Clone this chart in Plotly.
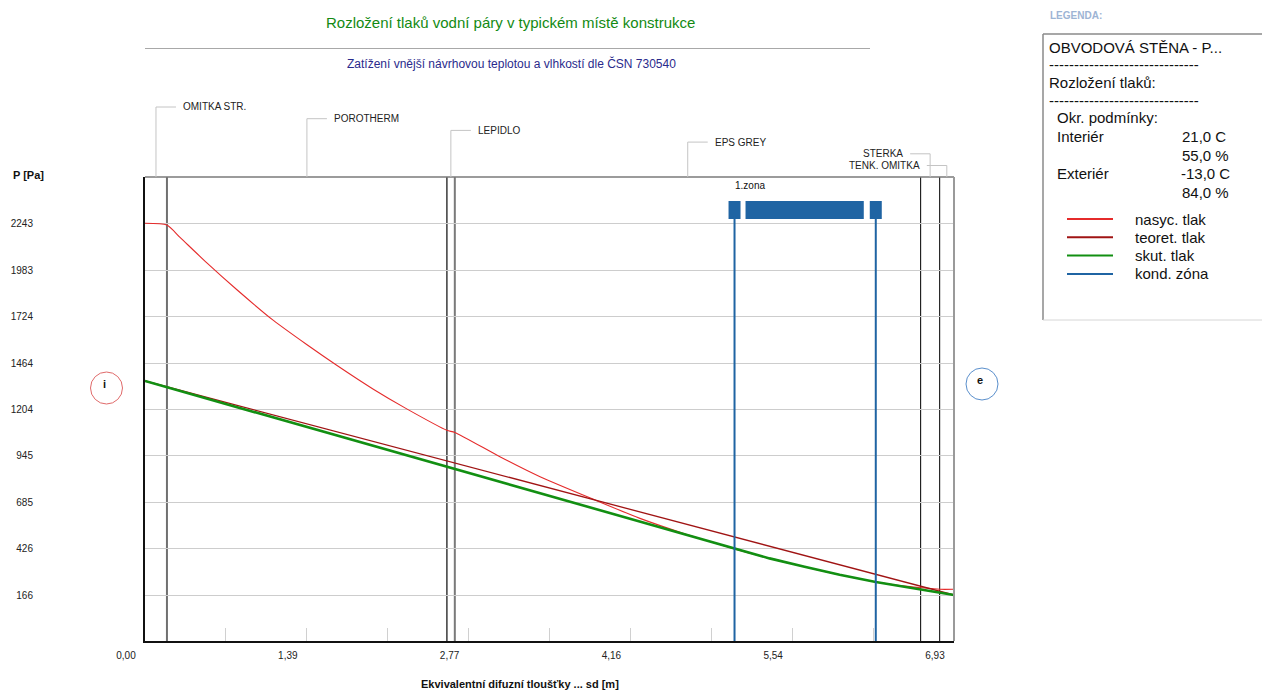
import plotly.graph_objects as go

# ------------------------- data -------------------------
layer_names = ["OMITKA STR.", "POROTHERM", "LEPIDLO", "EPS GREY", "STERKA", "TENK. OMITKA"]
layer_bounds = [0.0, 0.188, 2.586, 2.654, 6.644, 6.807, 6.93]   # sd [m]

# nasyc. tlak (saturated pressure)
sd_nasyc = [0.0, 0.188, 0.30, 0.53, 0.785, 1.10, 1.385, 1.642, 1.956, 2.242, 2.586, 2.654,
            3.04, 3.384, 3.869, 4.24, 4.64, 4.85, 5.05, 5.35, 5.65, 5.95, 6.26, 6.553, 6.644, 6.807, 6.93]
p_nasyc = [2247, 2237, 2168, 2025, 1876, 1703, 1568, 1452, 1318, 1208, 1088, 1076,
           940, 828, 694, 595, 505, 463, 423, 371, 324, 279, 239, 213, 207, 198, 198]

# teoret. tlak (theoretical pressure)
sd_teoret = [0.0, 6.93]
p_teoret = [1364, 166]

# skut. tlak (actual pressure)
sd_skut = [0.0, 5.05, 5.35, 5.65, 5.95, 6.26, 6.93]
p_skut = [1364, 423, 371, 324, 279, 239, 166]

# kond. zona (condensation zone)
zone_bounds = [5.05, 6.26]
zone_label = "1.zona"

x_tick_vals = [0.0, 1.386, 2.772, 4.158, 5.544, 6.93]
x_tick_text = ["0,00", "1,39", "2,77", "4,16", "5,54", "6,93"]
x_minor_step = 0.693
y_tick_vals = [166, 426, 685, 945, 1204, 1464, 1724, 1983, 2243]
y_tick_text = ["166", "426", "685", "945", "1204", "1464", "1724", "1983", "2243"]

series_names = ["nasyc. tlak", "teoret. tlak", "skut. tlak", "kond. zóna"]
construction = "OBVODOVÁ STĚNA - P..."
conditions = [("Interiér", "21,0 C", "55,0 %"), ("Exteriér", "-13,0 C", "84,0 %")]

title = "Rozložení tlaků vodní páry v typickém místě konstrukce"
subtitle = "Zatížení vnější návrhovou teplotou a vlhkostí dle ČSN 730540"
x_title = "Ekvivalentní difuzní tloušťky ... sd [m]"
y_title = "P [Pa]"

# ------------------------- styling -------------------------
C_NASYC = "#e52b2b"
C_TEORET = "#a01414"
C_SKUT = "#128f12"
C_ZONE = "#1f64a3"
series_colors = [C_NASYC, C_TEORET, C_SKUT, C_ZONE]

W, H = 1262, 691
PL, PT, PW, PH = 145, 177, 809, 464
X_RANGE = [0.0, 6.93]
Y_RANGE = [-91.5, 2506]

SMALL = "Liberation Sans, Arial, sans-serif"
MAIN = "Liberation Sans, Arial, sans-serif"


def px_x(px):
    return (px - PL) / PW


def px_y(py):
    return (PT + PH - py) / PH


fig = go.Figure()

fig.add_trace(go.Scatter(x=sd_nasyc, y=p_nasyc, mode="lines", name=series_names[0],
                         line=dict(color=C_NASYC, width=1.1, shape="spline", smoothing=0.6),
                         showlegend=False))
fig.add_trace(go.Scatter(x=sd_teoret, y=p_teoret, mode="lines", name=series_names[1],
                         line=dict(color=C_TEORET, width=1.3), showlegend=False))
fig.add_trace(go.Scatter(x=sd_skut, y=p_skut, mode="lines", name=series_names[2],
                         line=dict(color=C_SKUT, width=2.6), showlegend=False))

shapes = []
annotations = []

# plot frame (top / right)
shapes.append(dict(type="line", xref="paper", yref="paper", x0=0, x1=1, y0=1, y1=1,
                   line=dict(color="#7a7a7a", width=1.5), layer="above"))
shapes.append(dict(type="line", xref="paper", yref="paper", x0=1, x1=1, y0=0, y1=1,
                   line=dict(color="#9a9a9a", width=2), layer="above"))

# layer boundaries
bound_colors = ["#707070", "#3a3a3a", "#7a7a7a", "#151515", "#151515"]
bound_widths = [2, 1.5, 2, 1.1, 1.1]
for i, b in enumerate(layer_bounds[1:-1]):
    shapes.append(dict(type="line", xref="x", yref="paper", x0=b, x1=b, y0=0, y1=1,
                       line=dict(color=bound_colors[i], width=bound_widths[i]), layer="below"))

# layer labels with leader lines
label_side = [1, 1, 1, 1, -1, -1]
for i, name in enumerate(layer_names):
    mid = (layer_bounds[i] + layer_bounds[i + 1]) / 2
    ly = px_y(107 + 11.7 * i)
    s = label_side[i]
    shapes.append(dict(type="line", xref="x", yref="paper", x0=mid, x1=mid, y0=1, y1=ly,
                       line=dict(color="#c4c4c4", width=1)))
    shapes.append(dict(type="line", xref="x", yref="paper", xsizemode="pixel", xanchor=mid,
                       x0=0, x1=20 * s, y0=ly, y1=ly, line=dict(color="#c4c4c4", width=1)))
    annotations.append(dict(text=name, xref="x", yref="paper", x=mid, y=ly,
                            xshift=25 * s, xanchor="left" if s > 0 else "right", yanchor="middle",
                            showarrow=False, font=dict(family=SMALL, size=10, color="#222222")))

# condensation zone
bar_y0, bar_y1 = px_y(219), px_y(201)
for zb in zone_bounds:
    shapes.append(dict(type="line", xref="x", yref="paper", x0=zb, x1=zb, y0=0, y1=bar_y0,
                       line=dict(color=C_ZONE, width=2)))
    shapes.append(dict(type="rect", xref="x", yref="paper", xsizemode="pixel", xanchor=zb,
                       x0=-6, x1=6, y0=bar_y0, y1=bar_y1, line=dict(width=0), fillcolor=C_ZONE))
zone_px = (zone_bounds[1] - zone_bounds[0]) * PW / (X_RANGE[1] - X_RANGE[0])
shapes.append(dict(type="rect", xref="x", yref="paper", xsizemode="pixel", xanchor=zone_bounds[0],
                   x0=11, x1=zone_px - 12, y0=bar_y0, y1=bar_y1, line=dict(width=0), fillcolor=C_ZONE))
annotations.append(dict(text=zone_label, xref="x", yref="paper", x=zone_bounds[0], y=px_y(185),
                        xanchor="left", yanchor="middle", xshift=-2, showarrow=False,
                        font=dict(family=SMALL, size=10, color="#111111")))

# interior / exterior markers
for cx, cy, col, txt in [(106.5, 388, "#e06a6a", "i"), (982, 384, "#5a8fcc", "e")]:
    shapes.append(dict(type="circle", xref="paper", yref="paper", xsizemode="pixel", ysizemode="pixel",
                       xanchor=px_x(cx), yanchor=px_y(cy), x0=-16, x1=16, y0=-16, y1=16,
                       line=dict(color=col, width=1)))
    annotations.append(dict(text="<b>%s</b>" % txt, xref="paper", yref="paper", x=px_x(cx - 2), y=px_y(cy - 4),
                            xanchor="center", yanchor="middle", showarrow=False,
                            font=dict(family=MAIN, size=11, color="#111111")))

# titles
annotations.append(dict(text=title, xref="paper", yref="paper", x=px_x(510), y=px_y(22),
                        xanchor="center", yanchor="middle", showarrow=False,
                        font=dict(family=MAIN, size=15, color="#138a13")))
shapes.append(dict(type="line", xref="paper", yref="paper", x0=px_x(145), x1=px_x(870),
                   y0=px_y(48.5), y1=px_y(48.5), line=dict(color="#a8a8a8", width=1)))
annotations.append(dict(text=subtitle, xref="paper", yref="paper", x=px_x(511), y=px_y(63),
                        xanchor="center", yanchor="middle", showarrow=False,
                        font=dict(family=MAIN, size=12, color="#2a2a8c")))
annotations.append(dict(text="<b>%s</b>" % y_title, xref="paper", yref="paper", x=px_x(11), y=px_y(175),
                        xanchor="left", yanchor="middle", showarrow=False,
                        font=dict(family=MAIN, size=11, color="#111111")))
annotations.append(dict(text="<b>%s</b>" % x_title, xref="paper", yref="paper", x=px_x(520), y=px_y(684),
                        xanchor="center", yanchor="middle", showarrow=False,
                        font=dict(family=SMALL, size=11, color="#111111")))

# legend panel
annotations.append(dict(text="<b>LEGENDA:</b>", xref="paper", yref="paper", x=px_x(1048), y=px_y(15),
                        xanchor="left", yanchor="middle", showarrow=False,
                        font=dict(family=MAIN, size=10, color="#9db4d4")))
shapes.append(dict(type="line", xref="paper", yref="paper", x0=px_x(1043), x1=px_x(1043),
                   y0=px_y(34), y1=px_y(320), line=dict(color="#8a8a8a", width=1.5)))
shapes.append(dict(type="line", xref="paper", yref="paper", x0=px_x(1043), x1=px_x(1270),
                   y0=px_y(34), y1=px_y(34), line=dict(color="#8a8a8a", width=1.5)))
shapes.append(dict(type="line", xref="paper", yref="paper", x0=px_x(1043), x1=px_x(1270),
                   y0=px_y(320), y1=px_y(320), line=dict(color="#d6d6d6", width=1)))

LF = dict(family=MAIN, size=15, color="#111111")


def ltext(txt, x, y):
    annotations.append(dict(text=txt, xref="paper", yref="paper", x=px_x(x), y=px_y(y),
                            xanchor="left", yanchor="middle", showarrow=False, font=LF))


ltext(construction, 1047, 47)
ltext("-" * 30, 1047, 65)
ltext("Rozložení tlaků:", 1047, 82)
ltext("-" * 30, 1047, 100)
ltext("Okr. podmínky:", 1055, 118)
cy = 137
for name, temp, rh in conditions:
    ltext(name, 1055, cy)
    ltext(temp, 1179 if temp.startswith("-") else 1180, cy)
    ltext(rh, 1180, cy + 18.5)
    cy += 36.5

for i, (nm, col) in enumerate(zip(series_names, series_colors)):
    yy = 219 + 18.3 * i
    shapes.append(dict(type="line", xref="paper", yref="paper", x0=px_x(1067), x1=px_x(1113),
                       y0=px_y(yy), y1=px_y(yy), line=dict(color=col, width=2)))
    ltext(nm, 1133, yy)

fig.update_layout(
    width=W, height=H,
    margin=dict(l=PL, r=W - PL - PW, t=PT, b=H - PT - PH, pad=0, autoexpand=False),
    paper_bgcolor="white", plot_bgcolor="white",
    showlegend=False,
    shapes=shapes, annotations=annotations,
    xaxis=dict(range=X_RANGE, showgrid=False, zeroline=False, automargin=False,
               showline=True, linecolor="#111111", linewidth=2,
               tickmode="array", tickvals=x_tick_vals, ticktext=x_tick_text,
               ticks="inside", ticklen=13, tickwidth=1, tickcolor="#d0d0d0",
               minor=dict(ticks="inside", ticklen=13, tickwidth=1, tickcolor="#d0d0d0",
                          tick0=0, dtick=x_minor_step),
               ticklabelshift=-19, ticklabelstandoff=4,
               tickfont=dict(family=SMALL, size=10, color="#222222")),
    yaxis=dict(range=Y_RANGE, showgrid=True, gridcolor="#cdcdcd", gridwidth=1, zeroline=False,
               automargin=False,
               showline=True, linecolor="#111111", linewidth=2,
               tickmode="array", tickvals=y_tick_vals, ticktext=y_tick_text,
               ticks="", ticklabelstandoff=108,
               tickfont=dict(family=SMALL, size=10, color="#222222")),
)

fig.write_html("out.html", config={"displayModeBar": False},
               post_script="document.body.style.margin='0';")
